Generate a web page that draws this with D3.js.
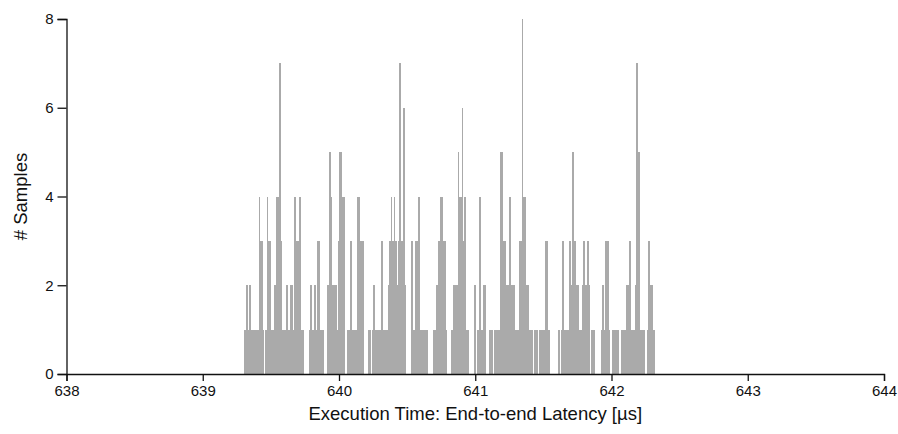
<!DOCTYPE html>
<head>
    <meta charset="utf-8">
    <script src="https://d3js.org/d3.v7.min.js"></script>
    <style>
        body { margin: 0; background: #fff; }
        text { font-family: "Liberation Sans", Arial, sans-serif; fill: #111; }
    </style>
</head>
<body>
<svg></svg>
</body>

<script>
    // Histogram data: counts per 0.01 us bin, first bin starts at 639.30 us
    var binStart = 639.30;
    var binWidth = 0.01;
    var counts = [
        1, 1, 2, 1, 2, 1, 1, 1, 1, 1, 1, 4, 3, 3, 1, 0, 1, 4, 3, 3,
        1, 1, 2, 2, 4, 4, 7, 3, 1, 1, 1, 2, 1, 1, 2, 2, 1, 4, 3, 3,
        3, 4, 1, 1, 0, 0, 0, 0, 1, 2, 1, 1, 2, 1, 3, 3, 1, 1, 1, 0,
        0, 2, 2, 5, 4, 2, 2, 2, 1, 3, 5, 5, 4, 4, 0, 0, 1, 1, 3, 1,
        1, 1, 1, 4, 4, 3, 3, 3, 0, 0, 0, 1, 1, 0, 1, 2, 1, 1, 1, 1,
        1, 3, 1, 1, 1, 1, 2, 3, 4, 3, 4, 3, 2, 3, 7, 3, 3, 6, 2, 0,
        0, 0, 0, 3, 1, 1, 3, 3, 4, 1, 1, 1, 1, 1, 1, 0, 0, 0, 0, 1,
        1, 2, 2, 3, 4, 4, 3, 3, 1, 0, 0, 0, 1, 1, 2, 2, 2, 5, 4, 4,
        6, 3, 4, 1, 1, 0, 0, 0, 0, 2, 0, 1, 1, 4, 1, 1, 2, 2, 0, 0,
        1, 1, 1, 0, 1, 1, 1, 1, 5, 5, 3, 3, 2, 2, 2, 4, 2, 2, 2, 1,
        1, 1, 3, 3, 8, 4, 4, 2, 2, 1, 1, 1, 0, 1, 1, 1, 0, 1, 1, 1,
        1, 3, 3, 1, 1, 0, 0, 0, 0, 0, 0, 1, 0, 1, 3, 1, 1, 1, 1, 3,
        2, 5, 3, 3, 2, 2, 1, 1, 2, 3, 2, 2, 3, 2, 0, 1, 1, 1, 0, 0,
        0, 0, 1, 2, 1, 3, 3, 3, 1, 0, 1, 1, 1, 1, 1, 0, 0, 1, 1, 1,
        1, 2, 2, 3, 1, 1, 1, 2, 7, 5, 5, 1, 1, 1, 0, 0, 1, 3, 2, 2,
        1, 1
    ];

    var xTicks = [638, 639, 640, 641, 642, 643, 644];
    var yTicks = [0, 2, 4, 6, 8];
    var xLabel = "Execution Time: End-to-end Latency [µs]";
    var yLabel = "# Samples";

    // Variables
    var width = 898;
    var height = 434;
    var margin = {top: 19, right: 14, bottom: 60, left: 66.5};

    var svg = d3.select('svg')
        .attr('width', width)
        .attr('height', height);

    var x = d3.scaleLinear()
        .domain([638, 644])
        .range([margin.left, width - margin.right]);

    var y = d3.scaleLinear()
        .domain([0, 8])
        .range([height - margin.bottom, margin.top]);

    // Bins
    var bins = counts.map(function (c, i) {
        return {x0: binStart + i * binWidth, x1: binStart + (i + 1) * binWidth, n: c};
    }).filter(function (d) { return d.n > 0; });

    svg.append('g')
        .attr('shape-rendering', 'crispEdges')
        .selectAll('rect')
        .data(bins)
        .enter().append('rect')
        .attr('x', function (d) { return x(d.x0); })
        .attr('width', function (d) { return x(d.x1) - x(d.x0) + 0.3; })
        .attr('y', function (d) { return y(d.n); })
        .attr('height', function (d) { return y(0) - y(d.n); })
        .style('fill', '#aaaaaa');

    // Axes
    var xAxis = svg.append('g')
        .attr('transform', 'translate(0,' + y(0) + ')')
        .call(d3.axisBottom(x).tickValues(xTicks).tickSize(7).tickSizeOuter(7).tickFormat(d3.format('d')));

    var yAxis = svg.append('g')
        .attr('transform', 'translate(' + margin.left + ',0)')
        .call(d3.axisLeft(y).tickValues(yTicks).tickSize(9).tickSizeOuter(9).tickFormat(d3.format('d')));

    svg.selectAll('.tick text')
        .style('font-size', '15px')
        .style('font-family', '"Liberation Sans", Arial, sans-serif')
        .attr('fill', '#111');
    xAxis.selectAll('.tick text').attr('dy', '0.95em').attr('y', 8);
    yAxis.selectAll('.tick text').attr('x', -13);
    svg.selectAll('.domain, .tick line').attr('stroke', '#111').attr('stroke-width', 1.3);

    // Labels
    svg.append('text')
        .attr('x', (x(638) + x(644)) / 2)
        .attr('y', 420)
        .attr('text-anchor', 'middle')
        .style('font-size', '18.5px')
        .text(xLabel);

    svg.append('text')
        .attr('transform', 'translate(27,' + (y(0) + y(8)) / 2 + ') rotate(-90)')
        .attr('text-anchor', 'middle')
        .style('font-size', '18.5px')
        .text(yLabel);
</script>
